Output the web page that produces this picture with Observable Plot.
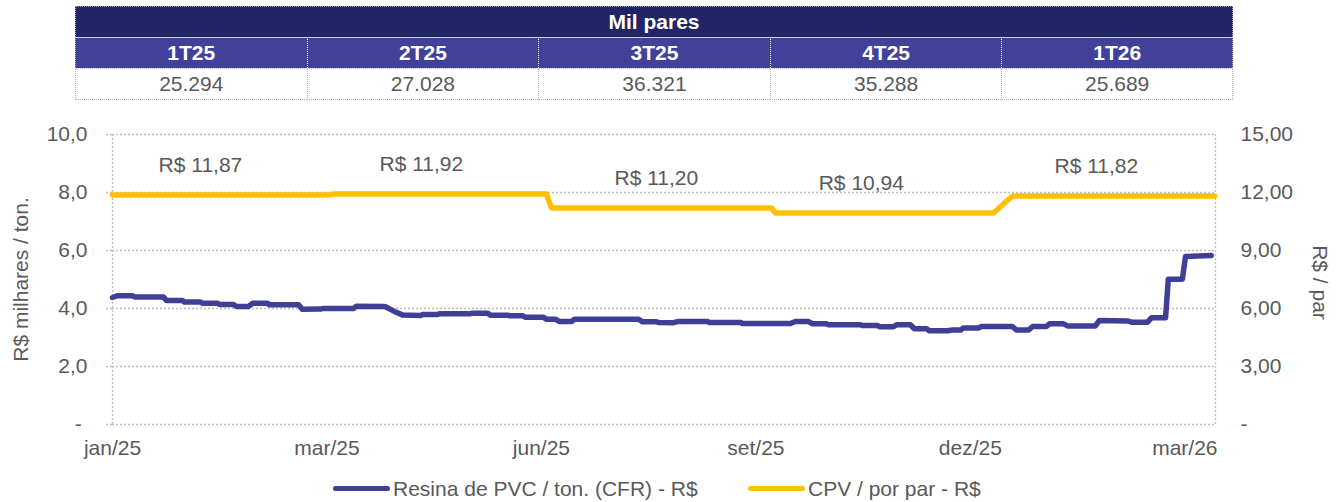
<!DOCTYPE html>
<html><head><meta charset="utf-8">
<script src="https://cdn.jsdelivr.net/npm/d3@7"></script>
<script src="https://cdn.jsdelivr.net/npm/@observablehq/plot@0.6"></script>
<style>
body{margin:0;background:#fff;font-family:"Liberation Sans",Arial,sans-serif;}
#wrap{width:1339px;}
#tbl{position:relative;height:106px;}
.cell{position:absolute;box-sizing:border-box;display:flex;align-items:center;justify-content:center;font-size:21px;}
#legend{position:relative;height:32px;font-size:21px;color:#595959;}
.sw{position:absolute;height:5px;border-radius:3px;top:16px;}
.lt{position:absolute;top:8px;line-height:21px;white-space:nowrap;}
</style></head><body>
<div id="wrap"><div id="tbl"></div><div id="chart"></div><div id="legend"></div></div>
<script>
// ---- data ----
const tableTitle = "Mil pares";
const quarters = ["1T25", "2T25", "3T25", "4T25", "1T26"];
const milPares = [25294, 27028, 36321, 35288, 25689];

// x = period index along the category axis
const resinaPeriodo = [0,1.6,6.5,7.2,16.6,17.6,22.8,23.5,28.7,29.4,34.3,34.9,39.5,40.5,44.4,45.7,50.6,51.2,60.7,62.0,67.9,68.5,78.7,79.6,88.4,89.1,92.0,94.6,100.5,101.2,106.1,106.7,116.8,117.5,122.4,123.4,128.9,129.6,133.8,134.8,140.7,141.6,144.6,145.9,149.8,150.8,161.6,171.7,173.0,177.5,178.2,183.1,184.4,194.2,194.8,205.0,205.6,221.3,222.9,227.2,228.5,233.0,233.7,244.1,244.8,249.7,250.3,254.9,255.9,260.4,261.7,265.7,266.6,272.5,274.2,276.8,277.7,282.6,283.6,293.7,295.0,299.0,300.3,304.8,305.8,310.4,311.7,320.8,322.1,331.3,332.6,337.8,339.1,343.7,344.6,349.2,350.2,358.6];
const resinaValor = [4.38,4.44,4.44,4.40,4.40,4.28,4.28,4.22,4.22,4.18,4.18,4.14,4.14,4.07,4.07,4.18,4.18,4.13,4.13,3.97,3.98,4.00,4.00,4.08,4.07,4.06,3.90,3.78,3.76,3.79,3.79,3.82,3.82,3.84,3.84,3.77,3.77,3.75,3.75,3.70,3.70,3.63,3.63,3.55,3.55,3.63,3.63,3.63,3.54,3.54,3.52,3.51,3.55,3.55,3.52,3.52,3.48,3.48,3.55,3.55,3.47,3.47,3.44,3.44,3.41,3.41,3.37,3.37,3.44,3.44,3.30,3.30,3.23,3.23,3.26,3.26,3.33,3.33,3.38,3.38,3.26,3.26,3.38,3.38,3.47,3.47,3.40,3.40,3.59,3.57,3.53,3.53,3.68,3.68,5.01,5.01,5.79,5.83];

const cpvPeriodo = [0,70.5,72.1,141.6,143.3,215.1,216.4,287.5,293.7,359.7];
const cpvValor = [11.87,11.87,11.92,11.92,11.20,11.20,10.94,10.94,11.82,11.82];

const cpvLabelPeriodo = [28.7, 100.8, 177.5, 244.4, 321.1];
const cpvLabelValor = [11.87, 11.92, 11.20, 10.94, 11.82];

const xTickPos = [0, 70, 140, 210, 280, 350];
const xTickLabels = ["jan/25", "mar/25", "jun/25", "set/25", "dez/25", "mar/26"];
const leftTicks = [0, 2, 4, 6, 8, 10];
const rightTicks = [0, 3, 6, 9, 12, 15];
const leftTitle = "R$ milhares / ton.";
const rightTitle = "R$ / par";
const serie1 = "Resina de PVC / ton. (CFR) - R$";
const serie2 = "CPV / por par - R$";

// ---- styling ----
const FONT = '"Liberation Sans", Arial, sans-serif';
const GREY = "#595959";
const BLUE = "#3f3f98";
const YELLOW = "#ffc000";
const NAVY = "#1f2566";
const PURPLE = "#41419a";
const ratio = 10 / 15;

const loc = d3.formatLocale({decimal: ",", thousands: ".", grouping: [3], currency: ["R$", ""]});
const fmtInt = loc.format(",d");
const fmt1 = loc.format(",.1f");
const fmt2 = loc.format(",.2f");

// ---- table ----
const tbl = document.getElementById("tbl");
const tLeft = 75, tWidth = 1158, colW = tWidth / quarters.length;
function cell(x, y, w, h, text, css) {
  const d = document.createElement("div");
  d.className = "cell";
  d.textContent = text;
  Object.assign(d.style, {left: x + "px", top: y + "px", width: w + "px", height: h + "px"}, css);
  tbl.appendChild(d);
}
cell(tLeft, 6, tWidth, 31, tableTitle, {background: NAVY, color: "#fff", fontWeight: "bold",
  borderTop: "1px dotted #b0b0b0", borderLeft: "1px dotted #b0b0b0", borderRight: "1px dotted #b0b0b0"});
quarters.forEach((q, i) => {
  cell(tLeft + i * colW, 37, colW, 31, q, {background: PURPLE, color: "#fff", fontWeight: "bold",
    borderTop: "1px solid #d0d0e8",
    borderLeft: i === 0 ? "1px dotted #b0b0b0" : "1px dotted #ffffff",
    borderRight: i === quarters.length - 1 ? "1px dotted #b0b0b0" : "none"});
  cell(tLeft + i * colW, 68, colW, 32, fmtInt(milPares[i]), {background: "#fff", color: GREY,
    borderTop: "1px dotted #c0c0c0", borderBottom: "1px dotted #b0b0b0",
    borderLeft: "1px dotted #b0b0b0",
    borderRight: i === quarters.length - 1 ? "1px dotted #b0b0b0" : "none"});
});

// ---- chart ----
const resina = resinaPeriodo.map((p, i) => ({p, v: resinaValor[i]}));
const cpvData = cpvPeriodo.map((p, i) => ({p, v: cpvValor[i]}));
const cpvLabels = cpvLabelPeriodo.map((p, i) => ({p, v: cpvLabelValor[i]}));
const dots = {stroke: "#bfbfbf", strokeDasharray: "2,2", strokeWidth: 1.3};

const chart = Plot.plot({
  width: 1339, height: 364,
  marginTop: 28, marginBottom: 46, marginLeft: 112, marginRight: 124,
  x: {domain: [0, 360], axis: null},
  y: {domain: [0, 10], axis: null},
  style: {fontFamily: FONT, fontSize: "21px", color: GREY, background: "white", overflow: "visible"},
  marks: [
    Plot.ruleY(leftTicks, dots),
    Plot.ruleX([0, 360], dots),
    Plot.axisY(leftTicks, {anchor: "left", tickSize: 7, ...dots, tickPadding: 18, fill: GREY,
      tickFormat: d => d === 0 ? "-\u00a0" : fmt1(d), label: null}),
    Plot.axisY(rightTicks.map(v => v * ratio), {anchor: "right", tickSize: 0, tickPadding: 25, fill: GREY,
      tickFormat: d => { const v = Math.round(d / ratio * 100) / 100; return v === 0 ? "-" : fmt2(v); }, label: null}),
    Plot.axisX(xTickPos, {anchor: "bottom", tickSize: 0, tickPadding: 16, fill: GREY,
      tickFormat: d => xTickLabels[xTickPos.indexOf(d)], label: null}),
    Plot.line(resina, {x: "p", y: "v", stroke: BLUE, strokeWidth: 5.5, strokeLinejoin: "round", strokeLinecap: "round"}),
    Plot.line(cpvData, {x: "p", y: d => d.v * ratio, stroke: YELLOW, strokeWidth: 5.5, strokeLinejoin: "round", strokeLinecap: "round"}),
    Plot.text(cpvLabels, {x: "p", y: d => d.v * ratio, dy: -30, text: d => "R$ " + fmt2(d.v), fill: GREY}),
    Plot.text([leftTitle], {frameAnchor: "left", textAnchor: "middle", dx: -91, rotate: -90, text: d => d, fill: GREY}),
    Plot.text([rightTitle], {frameAnchor: "right", textAnchor: "middle", dx: 104, dy: 3, rotate: 90, text: d => d, fill: GREY})
  ]
});
document.getElementById("chart").appendChild(chart);

// ---- legend ----
const lg = document.getElementById("legend");
[[serie1, BLUE, 333], [serie2, YELLOW, 748]].forEach(([t, c, x]) => {
  const s = document.createElement("div");
  s.className = "sw";
  Object.assign(s.style, {left: x + "px", width: "57px", background: c});
  lg.appendChild(s);
  const l = document.createElement("div");
  l.className = "lt";
  l.style.left = (x + 60) + "px";
  l.textContent = t;
  lg.appendChild(l);
});
</script>
</body></html>
